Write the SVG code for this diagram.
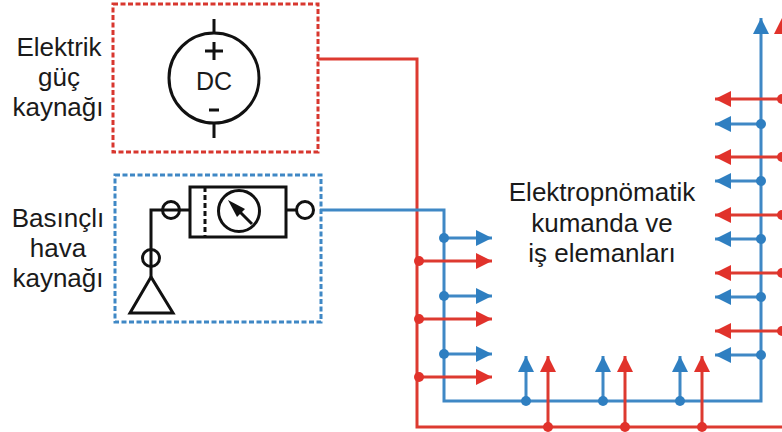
<svg xmlns="http://www.w3.org/2000/svg" width="782" height="432" viewBox="0 0 782 432">
<defs>
<marker id="ab" markerUnits="userSpaceOnUse" markerWidth="17" markerHeight="17" refX="16" refY="8" orient="auto"><path d="M0 0L16 8L0 16Z" fill="#2f7fc1"/></marker>
<marker id="ar" markerUnits="userSpaceOnUse" markerWidth="17" markerHeight="17" refX="16" refY="8" orient="auto"><path d="M0 0L16 8L0 16Z" fill="#e1322b"/></marker>
</defs>
<style>
text{font-family:"Liberation Sans",Arial,sans-serif;font-size:26px;fill:#1a1a1a;text-anchor:middle}
.b{fill:none;stroke:#3f88c5;stroke-width:3}
.r{fill:none;stroke:#dd3a30;stroke-width:3}
.ba{marker-end:url(#ab)}
.ra{marker-end:url(#ar)}
.db{fill:#2f7fc1}
.dr{fill:#e1322b}
.k{fill:none;stroke:#111;stroke-width:3}
.c{fill:none;stroke:#111;stroke-width:3}
</style>
<rect width="782" height="432" fill="#fff"/>
<g id="connectors">
<path class="r" d="M318 59H417V427H782"/>
<path class="b ba" d="M320 210H444V401H761V18"/>
<path class="b ba" d="M444 238H492"/><path class="b ba" d="M444 296H492"/><path class="b ba" d="M444 354H492"/>
<path class="b ba" d="M526 401V356"/><path class="b ba" d="M603 401V356"/><path class="b ba" d="M680 401V356"/>
<path class="b ba" d="M761 124H715"/><path class="b ba" d="M761 181H715"/><path class="b ba" d="M761 239H715"/><path class="b ba" d="M761 297H715"/><path class="b ba" d="M761 355H715"/>
<path class="r ra" d="M419 261H492"/><path class="r ra" d="M419 319H492"/><path class="r ra" d="M419 377H492"/>
<path class="r ra" d="M548 427V356"/><path class="r ra" d="M625 427V356"/><path class="r ra" d="M702 427V356"/>
<path class="r ra" d="M782 99H715"/><path class="r ra" d="M782 157H715"/><path class="r ra" d="M782 215H715"/><path class="r ra" d="M782 273H715"/><path class="r ra" d="M782 331H715"/>
<path class="dr" d="M782 18L790 34H774Z"/>
<g class="db"><circle cx="444" cy="238" r="5"/><circle cx="444" cy="296" r="5"/><circle cx="444" cy="354" r="5"/><circle cx="526" cy="401" r="5"/><circle cx="603" cy="401" r="5"/><circle cx="680" cy="401" r="5"/><circle cx="761" cy="124" r="5"/><circle cx="761" cy="181" r="5"/><circle cx="761" cy="239" r="5"/><circle cx="761" cy="297" r="5"/><circle cx="761" cy="355" r="5"/></g>
<g class="dr"><circle cx="419" cy="261" r="5"/><circle cx="419" cy="319" r="5"/><circle cx="419" cy="377" r="5"/><circle cx="548" cy="427" r="5"/><circle cx="625" cy="427" r="5"/><circle cx="702" cy="427" r="5"/><circle cx="782" cy="99" r="5"/><circle cx="782" cy="157" r="5"/><circle cx="782" cy="215" r="5"/><circle cx="782" cy="273" r="5"/><circle cx="782" cy="331" r="5"/></g>
</g>
<g id="dc-source">
<rect x="113" y="4" width="205" height="148" fill="none" stroke="#d8372f" stroke-width="3" stroke-dasharray="5 2.5"/>
<circle class="c" cx="214" cy="78" r="45"/>
<path class="k" d="M214 19V33M214 123V138M205 51H223M214 42V60M209 110H219"/>
<text x="214" y="90" style="font-size:25px">DC</text>
</g>
<g id="air-source">
<rect x="115" y="175" width="206" height="147" fill="none" stroke="#3f88c5" stroke-width="3" stroke-dasharray="5 2.5"/>
<path class="k" d="M151 277V210H190M287 210H297"/>
<circle class="c" cx="171" cy="210" r="8.5"/>
<circle class="c" cx="151" cy="258" r="8.5"/>
<circle class="c" cx="305" cy="210" r="8.5"/>
<rect x="190" y="187" width="96" height="50" fill="#fff" stroke="#111" stroke-width="3"/>
<path d="M205 187V237" fill="none" stroke="#111" stroke-width="3" stroke-dasharray="5 3"/>
<circle class="c" cx="239" cy="211" r="20.5"/>
<path class="k" d="M252 224L232 204"/>
<path d="M228 200L245 209L237 217Z" fill="#111"/>
<path class="k" d="M151 277L130 313H173Z"/>
</g>
<g id="labels">
<text x="59" y="56">Elektrik</text><text x="59" y="86">güç</text><text x="58" y="116">kaynağı</text>
<text x="58" y="227">Basınçlı</text><text x="58" y="257">hava</text><text x="58" y="287">kaynağı</text>
<text x="602" y="201">Elektropnömatik</text><text x="602" y="232">kumanda ve</text><text x="602" y="262">iş elemanları</text>
</g>
</svg>
